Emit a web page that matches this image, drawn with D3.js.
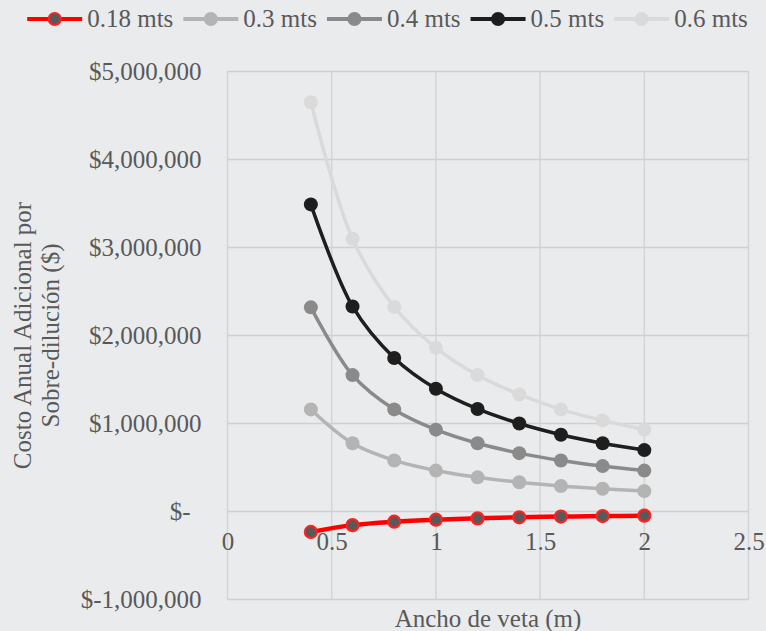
<!DOCTYPE html>
<html>
<head>
<meta charset="utf-8">
<script src="https://cdn.jsdelivr.net/npm/d3@7"></script>
<style>
  html, body { margin: 0; padding: 0; background: #eaebed; }
  svg { display: block; }
  text { font-family: "Liberation Serif", "DejaVu Serif", serif; fill: #595959; }
</style>
</head>
<body>
<svg id="chart" width="766" height="631"></svg>
<script>
// Vein width (m) on the horizontal axis
const anchoVeta = [0.4, 0.6, 0.8, 1.0, 1.2, 1.4, 1.6, 1.8, 2.0];

// Additional yearly over-dilution cost ($) for each dilution thickness
const serie018 = [-232000, -155000, -116000, -93000, -78000, -66000, -58000, -52000, -47000];
const serie03  = [1160000, 775000, 580000, 465000, 388000, 332000, 290000, 258000, 232000];
const serie04  = [2320000, 1550000, 1160000, 930000, 775000, 663000, 580000, 516000, 465000];
const serie05  = [3490000, 2330000, 1745000, 1395000, 1165000, 1000000, 873000, 776000, 698000];
const serie06  = [4650000, 3100000, 2325000, 1860000, 1550000, 1330000, 1160000, 1035000, 930000];

const seriesNames = ["0.18 mts", "0.3 mts", "0.4 mts", "0.5 mts", "0.6 mts"];

// Axis ticks
const xTicks = [0, 0.5, 1, 1.5, 2, 2.5];
const yTicks = [-1000000, 0, 1000000, 2000000, 3000000, 4000000, 5000000];

const yTitleLines = ["Costo Anual Adicional por", "Sobre-dilución ($)"];
const xTitle = "Ancho de veta (m)";

const seriesStyle = [
  { line: "#ff0000", fill: "#595959", stroke: "#ff2020", lw: 4.5 },
  { line: "#b4b4b4", fill: "#b4b4b4", stroke: "#b4b4b4", lw: 3.5 },
  { line: "#8a8a8a", fill: "#8a8a8a", stroke: "#8a8a8a", lw: 3.5 },
  { line: "#1e1e1e", fill: "#1e1e1e", stroke: "#1e1e1e", lw: 3.5 },
  { line: "#dadada", fill: "#dadada", stroke: "#dadada", lw: 3.5 }
];

const seriesValues = [serie018, serie03, serie04, serie05, serie06];
const series = seriesNames.map((name, i) => ({
  name,
  style: seriesStyle[i],
  points: anchoVeta.map((x, j) => ({ x, y: seriesValues[i][j] }))
}));

const svg = d3.select("#chart");
const FONT = 25;

const plot = { left: 227.5, right: 748.5, top: 71.5, bottom: 599.5 };

const x = d3.scaleLinear().domain([0, 2.5]).range([plot.left, plot.right]);
const y = d3.scaleLinear().domain([-1000000, 5000000]).range([plot.bottom, plot.top]);

// Gridlines
const grid = svg.append("g");
grid.selectAll("line.v").data(xTicks).enter().append("line")
  .attr("x1", d => x(d)).attr("x2", d => x(d))
  .attr("y1", plot.top).attr("y2", plot.bottom)
  .attr("stroke", "#d5d5d5").attr("stroke-width", 1.5);
grid.selectAll("line.h").data(yTicks).enter().append("line")
  .attr("x1", plot.left).attr("x2", plot.right)
  .attr("y1", d => y(d)).attr("y2", d => y(d))
  .attr("stroke", "#d0d0d0").attr("stroke-width", 1.5);

// Y axis labels (accounting style: zero shown as "$-")
const fmt = d3.format(",");
const yFormat = d => d === 0 ? "$-" : (d < 0 ? "$-" + fmt(-d) : "$" + fmt(d));
const yAxis = d3.axisLeft(y).tickValues(yTicks).tickFormat(yFormat).tickSize(0).tickPadding(26);
const gy = svg.append("g").attr("transform", `translate(${plot.left},0)`).call(yAxis);
gy.select(".domain").remove();
gy.selectAll("text")
  .attr("font-size", FONT).attr("font-family", null).attr("fill", "#595959")
  .attr("dy", "0.33em")
  .attr("dx", d => d === 0 ? -11 : 0);

// X axis labels, placed below the zero line
const xAxis = d3.axisBottom(x).tickValues(xTicks).tickFormat(d => String(d)).tickSize(0).tickPadding(21);
const gx = svg.append("g").attr("transform", `translate(0,${y(0)})`).call(xAxis);
gx.select(".domain").remove();
gx.selectAll("text")
  .attr("font-size", FONT).attr("font-family", null).attr("fill", "#595959");

// Series lines and markers
const line = d3.line().x(d => x(d.x)).y(d => y(d.y)).curve(d3.curveCatmullRom.alpha(0.5));

const sg = svg.append("g").selectAll("g").data(series).enter().append("g");
sg.append("path")
  .attr("d", d => line(d.points))
  .attr("fill", "none")
  .attr("stroke", d => d.style.line)
  .attr("stroke-width", d => d.style.lw)
  .attr("stroke-linejoin", "round");
sg.each(function(s) {
  d3.select(this).selectAll("circle").data(s.points).enter().append("circle")
    .attr("cx", d => x(d.x)).attr("cy", d => y(d.y))
    .attr("r", s.name === "0.18 mts" ? 6 : 7)
    .attr("fill", s.style.fill)
    .attr("stroke", s.style.stroke)
    .attr("stroke-width", s.name === "0.18 mts" ? 2.2 : 0);
});

// Axis titles
svg.append("text")
  .attr("x", (plot.left + plot.right) / 2).attr("y", 627)
  .attr("text-anchor", "middle").attr("font-size", FONT)
  .text(xTitle);

const yt = svg.append("text")
  .attr("transform", `translate(0,${(plot.top + plot.bottom) / 2}) rotate(-90)`)
  .attr("text-anchor", "middle").attr("font-size", FONT);
yt.selectAll("tspan").data(yTitleLines).enter().append("tspan")
  .attr("x", 0).attr("y", (d, i) => 31 + i * 28)
  .text(d => d);

// Legend, centred above the plot
const legend = svg.append("g");
const items = legend.selectAll("g").data(series).enter().append("g");
items.append("line")
  .attr("x1", 0).attr("x2", 55).attr("y1", 0).attr("y2", 0)
  .attr("stroke", d => d.style.line).attr("stroke-width", 4);
items.append("circle")
  .attr("cx", 27.5).attr("cy", 0)
  .attr("r", d => d.name === "0.18 mts" ? 6 : 7)
  .attr("fill", d => d.style.fill)
  .attr("stroke", d => d.style.stroke)
  .attr("stroke-width", d => d.name === "0.18 mts" ? 2.2 : 0);
items.append("text")
  .attr("x", 60).attr("y", 0).attr("dy", "0.33em")
  .attr("font-size", FONT)
  .text(d => d.name);

let cursor = 0;
const widths = [];
items.each(function() {
  const w = 60 + d3.select(this).select("text").node().getComputedTextLength();
  widths.push(w);
});
const gap = 10;
const total = d3.sum(widths) + gap * (widths.length - 1);
let start = 387.5 - total / 2;
items.attr("transform", (d, i) => {
  const tx = start + cursor;
  cursor += widths[i] + gap;
  return `translate(${tx},19)`;
});
</script>
</body>
</html>
